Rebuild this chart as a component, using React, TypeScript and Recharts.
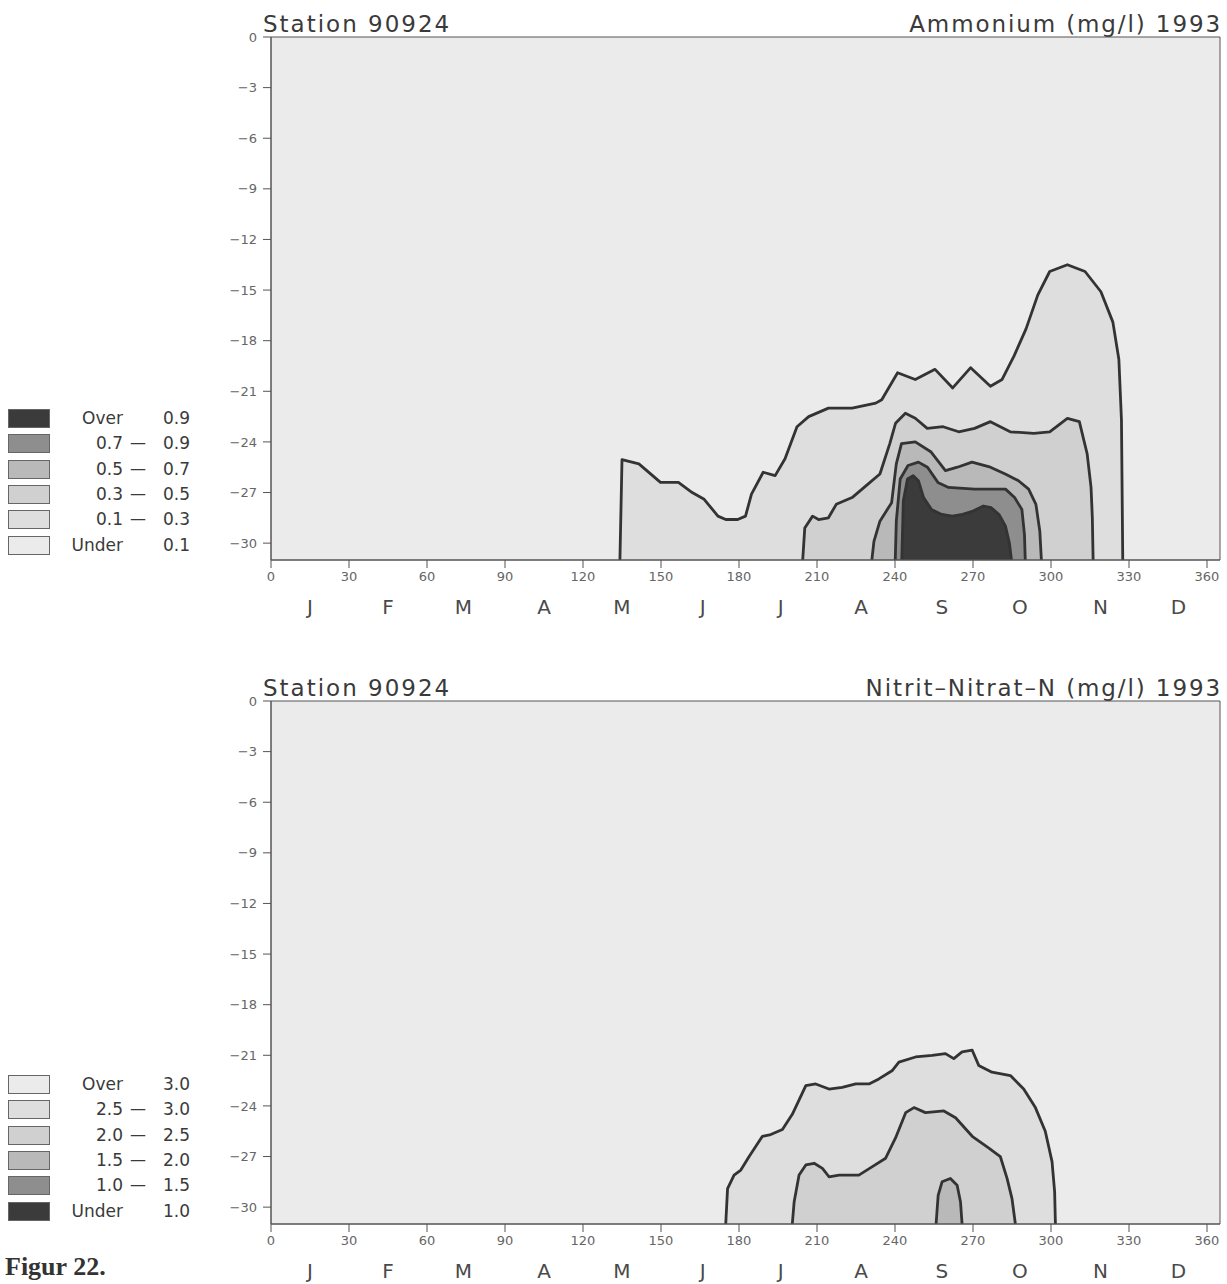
import { ComposedChart, Area, XAxis, YAxis, CartesianGrid, ReferenceArea } from "recharts";

// day of year / depth (m) along each contour line
const DAY_TICKS = [0, 30, 60, 90, 120, 150, 180, 210, 240, 270, 300, 330, 360];
const DEPTH_TICKS = [0, -3, -6, -9, -12, -15, -18, -21, -24, -27, -30];
const MONTH_DAYS = [15, 45, 74, 105, 135, 166, 196, 227, 258, 288, 319, 349];
const MONTHS = ["J", "F", "M", "A", "M", "J", "J", "A", "S", "O", "N", "D"];

// Ammonium contours
const nh4_01: [number, number][] = [
  [134.2, -31], [135, -25.05], [141.5, -25.3], [149.8, -26.4], [156.7, -26.4], [162, -27],
  [166.6, -27.4], [171.9, -28.4], [174.9, -28.6], [179.5, -28.6], [182.5, -28.4], [184.8, -27.1],
  [189.3, -25.8], [193.9, -26], [197.7, -25], [202.3, -23.1], [206.8, -22.5], [214.4, -22],
  [223.5, -22], [232.6, -21.7], [234.9, -21.5], [241, -19.9], [247.8, -20.3], [255.4, -19.7],
  [262.2, -20.8], [269.1, -19.6], [276.7, -20.7], [281.2, -20.3], [285.8, -18.9], [290.4, -17.3],
  [294.9, -15.3], [299.5, -13.9], [306.3, -13.5], [313.1, -13.9], [319.2, -15.1], [323.8, -16.9],
  [326.1, -19.1], [327.1, -22.7], [327.6, -31],
];
const nh4_03: [number, number][] = [
  [204.5, -31], [205.3, -29.1], [208.3, -28.4], [210.6, -28.6], [214.4, -28.5], [217.4, -27.7],
  [223.5, -27.3], [229.6, -26.5], [234.2, -25.9], [238, -24.1], [240.2, -22.9], [244, -22.3],
  [247.8, -22.6], [252.4, -23.2], [258.5, -23.1], [264.5, -23.4], [270.6, -23.2], [276.7, -22.8],
  [284.3, -23.4], [293.4, -23.5], [299.5, -23.4], [306.3, -22.6], [310.9, -22.8], [313.9, -24.7],
  [315.4, -26.7], [315.9, -28.5], [316.2, -31],
];
const nh4_05: [number, number][] = [
  [231.1, -31], [231.9, -29.9], [234.2, -28.7], [238.7, -27.6], [240.5, -25.3], [242.5, -24.1],
  [247.8, -24], [253.9, -24.6], [259.4, -25.7], [264, -25.5], [269.6, -25.2], [276.7, -25.5],
  [282.4, -25.9], [287.5, -26.3], [291.4, -26.8], [294.2, -27.7], [295.7, -29.3], [296.3, -31],
];
const nh4_07: [number, number][] = [
  [240.1, -31], [240.5, -28.7], [242, -26.2], [245, -25.4], [249, -25.2], [252.5, -25.5],
  [256.5, -26.4], [260.6, -26.7], [270.6, -26.8], [282.5, -26.8], [286, -27.3], [288.8, -28],
  [289.8, -29.5], [290.1, -31],
];
const nh4_09: [number, number][] = [
  [242.6, -31], [243.2, -27.5], [244.8, -26.2], [247, -26], [249, -26.3], [251, -27.3],
  [254, -28], [258, -28.3], [262, -28.4], [266, -28.3], [270, -28.1], [274, -27.8],
  [277, -27.9], [280, -28.3], [282.5, -29], [284, -30], [284.8, -31],
];

// Nitrit-Nitrat contours
const no3_30: [number, number][] = [
  [174.9, -31], [175.6, -28.9], [178.1, -28.1], [180.7, -27.8], [183.9, -27], [189, -25.8],
  [192.2, -25.7], [196.7, -25.4], [200.5, -24.5], [205.7, -22.8], [209.5, -22.7], [214.6, -23],
  [219.7, -22.9], [224.9, -22.7], [230, -22.7], [233.8, -22.4], [239, -21.9], [241.5, -21.4],
  [247.9, -21.1], [254.3, -21], [259.4, -20.9], [262.6, -21.2], [265.8, -20.8], [269.7, -20.7],
  [272.2, -21.6], [277.3, -22], [284.4, -22.2], [289.5, -23], [294, -24.1], [297.8, -25.5],
  [300.4, -27.3], [301.4, -29.1], [301.7, -31],
];
const no3_25: [number, number][] = [
  [200.5, -31], [201.2, -29.7], [203.1, -28.1], [205.7, -27.5], [208.9, -27.4], [212.1, -27.7],
  [214.6, -28.2], [218.5, -28.1], [226.1, -28.1], [231.3, -27.6], [236.4, -27.1], [240.2, -25.9],
  [244.1, -24.4], [247.3, -24.1], [251.7, -24.4], [258.8, -24.3], [263.3, -24.7], [269.7, -25.8],
  [276.1, -26.5], [280.5, -27], [283.1, -28.3], [285, -29.5], [286.3, -31],
];
const no3_20: [number, number][] = [
  [255.8, -31], [256.6, -29.3], [258.1, -28.5], [261.3, -28.3], [263.9, -28.7], [265.2, -29.7],
  [265.8, -31],
];

const NH4_LO = ["Over", "0.7", "0.5", "0.3", "0.1", "Under"];
const NH4_HI = ["0.9", "0.9", "0.7", "0.5", "0.3", "0.1"];
const NH4_FILL = ["#3b3b3b", "#8e8e8e", "#b9b9b9", "#d0d0d0", "#dedede", "#ebebeb"];

const NO3_LO = ["Over", "2.5", "2.0", "1.5", "1.0", "Under"];
const NO3_HI = ["3.0", "3.0", "2.5", "2.0", "1.5", "1.0"];
const NO3_FILL = ["#ebebeb", "#dedede", "#d0d0d0", "#b9b9b9", "#8e8e8e", "#3b3b3b"];

const toPts = (arr: [number, number][]) => arr.map(([d, z]) => ({ d, z }));

const INK = "#3a3a3a";

function Legend({ lo, hi, fills, top }: { lo: string[]; hi: string[]; fills: string[]; top: number }) {
  return (
    <div style={{ position: "absolute", left: 0, top, width: 200 }}>
      {lo.map((l, i) => (
        <div key={i} style={{ position: "absolute", top: i * 25.3, left: 0, width: 200, height: 22 }}>
          <div style={{ position: "absolute", left: 8, top: 1, width: 42, height: 19, background: fills[i], border: "1px solid #666", boxSizing: "border-box" }} />
          <span style={{ position: "absolute", right: 200 - 123, top: 0, fontSize: 17, color: INK, whiteSpace: "nowrap" }}>{l}</span>
          {l !== "Over" && l !== "Under" && (
            <span style={{ position: "absolute", left: 130, top: 0, fontSize: 16, color: INK }}>—</span>
          )}
          <span style={{ position: "absolute", right: 200 - 190, top: 0, fontSize: 17, color: INK }}>{hi[i]}</span>
        </div>
      ))}
    </div>
  );
}

function Panel({ top, title, contours, fills, bg, legend }: {
  top: number; title: string; contours: [number, number][][]; fills: string[]; bg: string; legend: JSX.Element;
}) {
  return (
    <div style={{ position: "absolute", left: 0, top, width: 1227, height: 640 }}>
      <div style={{ position: "absolute", left: 263, top: 11, fontSize: 23, letterSpacing: 2, color: INK, whiteSpace: "nowrap" }}>Station 90924</div>
      <div style={{ position: "absolute", right: 5, top: 11, fontSize: 23, letterSpacing: 1.9, color: INK, whiteSpace: "nowrap" }}>{title}</div>
      {legend}
      <ComposedChart width={1227} height={636} margin={{ top: 37, right: 7, left: 231, bottom: 0 }} style={{ position: "absolute", left: 0, top: 0 }}>
        <CartesianGrid fill={bg} horizontal={false} vertical={false} />
        <XAxis
          dataKey="d"
          type="number"
          domain={[0, 365]}
          allowDataOverflow
          ticks={DAY_TICKS}
          height={32}
          tickSize={8}
          tickMargin={4}
          stroke="#555"
          tick={{ fontSize: 13, fill: "#666" }}
        />
        <XAxis
          xAxisId="m"
          dataKey="d"
          type="number"
          domain={[0, 365]}
          allowDataOverflow
          ticks={MONTH_DAYS}
          height={44}
          axisLine={false}
          tickLine={false}
          tickFormatter={(v: number) => MONTHS[MONTH_DAYS.indexOf(v)]}
          tick={{ fontSize: 20, fill: "#4a4a4a" }}
        />
        <YAxis
          type="number"
          domain={[-31, 0]}
          allowDataOverflow
          ticks={DEPTH_TICKS}
          width={40}
          tickSize={8}
          tickMargin={6}
          stroke="#555"
          tickFormatter={(v: number) => (v < 0 ? "−" + Math.abs(v) : String(v))}
          tick={{ fontSize: 13, fill: "#666" }}
        />
        {contours.map((c, i) => (
          <Area
            key={i}
            data={toPts(c)}
            dataKey="z"
            type="linear"
            baseValue="dataMin"
            fill={fills[i]}
            fillOpacity={1}
            stroke="#333"
            strokeWidth={2.8}
            strokeLinejoin="round"
            dot={false}
            activeDot={false}
            isAnimationActive={false}
          />
        ))}
        <ReferenceArea x1={0} x2={365} y1={-31} y2={0} fill="none" stroke="#555" strokeWidth={1} />
      </ComposedChart>
    </div>
  );
}

export default function App() {
  return (
    <div style={{ position: "absolute", left: 0, top: 0, width: 1227, height: 1284, background: "#fff", fontFamily: '"DejaVu Sans", sans-serif' }}>
      <Panel
        top={0}
        title="Ammonium (mg/l) 1993"
        contours={[nh4_01, nh4_03, nh4_05, nh4_07, nh4_09]}
        fills={[NH4_FILL[4], NH4_FILL[3], NH4_FILL[2], NH4_FILL[1], NH4_FILL[0]]}
        bg={NH4_FILL[5]}
        legend={<Legend lo={NH4_LO} hi={NH4_HI} fills={NH4_FILL} top={408} />}
      />
      <Panel
        top={664}
        title="Nitrit–Nitrat–N (mg/l) 1993"
        contours={[no3_30, no3_25, no3_20]}
        fills={[NO3_FILL[1], NO3_FILL[2], NO3_FILL[3]]}
        bg={NO3_FILL[0]}
        legend={<Legend lo={NO3_LO} hi={NO3_HI} fills={NO3_FILL} top={410} />}
      />
      <div style={{ position: "absolute", left: 5, top: 1252, fontFamily: '"Liberation Serif", serif', fontWeight: "bold", fontSize: 26, color: "#333" }}>
        Figur 22.
      </div>
    </div>
  );
}
